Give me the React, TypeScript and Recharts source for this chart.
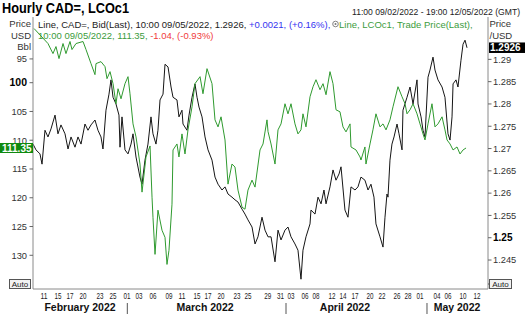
import React from "react";
import { LineChart, Line, XAxis, YAxis } from "recharts";

const FONT = "'Liberation Sans', Arial, sans-serif";
const FRAME = "#8a8a8a";

// x = trading-day position counted from 9 Feb 2022, y = Brent price (USD/Bbl)
const brentDays = [
  0.61, 2.65, 3.38, 3.82, 4.26, 4.85, 5.28, 5.87, 6.16, 6.75, 7.77, 8.21, 8.94, 9.52, 9.67, 10.4, 10.99,
  11.28, 11.72, 12.16, 12.59, 12.89, 13.33, 13.91, 14.35, 14.64, 15.08, 15.52, 16.1, 16.4, 16.98, 17.57,
  17.86, 18.0, 18.3, 18.73, 19.32, 19.76, 20.05, 20.34, 20.78, 20.93, 21.51, 21.8, 22.24, 22.68, 23.12,
  23.71, 24.14, 24.88, 25.31, 25.9, 26.63, 27.07, 27.51, 27.95, 28.53, 28.97, 29.55, 29.99, 30.43, 31.02,
  31.45, 31.89, 32.48, 32.92, 33.65, 34.09, 34.67, 34.82, 35.26, 35.84, 36.28, 36.72, 37.3, 37.74, 38.18,
  38.76, 39.2, 39.64, 39.93, 40.37, 40.96, 41.4, 41.83, 42.42, 42.86, 43.3, 43.88, 44.32, 44.76, 45.34,
  45.78, 46.22, 46.81, 46.95, 47.68, 48.27, 48.41, 48.99, 49.14, 49.73, 50.16, 50.6, 51.19, 51.63, 52.07,
  52.65, 53.09, 53.82, 54.41, 54.85, 55.14, 55.58, 56.02, 56.6, 57.04, 57.48, 57.77, 58.21, 58.79, 59.23,
  59.67, 60.26, 60.69, 60.99, 61.43, 61.87, 62.45, 62.89, 63.33, 63.77,
];
const brentValues = [
  90.58, 93.19, 94.94, 93.72, 95.81, 93.19, 94.94, 92.84, 94.24, 93.19, 92.84, 94.24, 96.68, 98.6, 96.68,
  96.34, 97.21, 99.3, 98.08, 100.17, 103.66, 101.05, 102.79, 100.17, 98.95, 101.92, 107.16, 109.42, 114.14,
  119.02, 112.91, 111.0, 119.9, 123.39, 129.84, 122.16, 125.65, 126.88, 131.59, 129.14, 121.12, 111.69,
  110.65, 112.91, 108.9, 112.39, 108.2, 104.19, 100.17, 98.95, 101.92, 97.56, 100.17, 106.46, 107.68,
  105.93, 109.95, 117.63, 114.14, 114.66, 118.67, 121.64, 121.99, 118.67, 116.93, 118.15, 111.69, 110.65,
  106.46, 108.5, 110.65, 114.14, 108.2, 107.16, 103.66, 105.41, 103.66, 107.16, 108.9, 108.2, 105.41,
  107.68, 102.44, 100.7, 99.48, 101.22, 100.17, 102.09, 98.08, 100.17, 104.71, 105.06, 107.68, 108.55,
  107.16, 111.17, 111.69, 112.91, 113.44, 111.17, 114.14, 110.65, 108.2, 105.41, 107.68, 107.16, 108.2,
  106.46, 104.19, 100.7, 102.44, 103.66, 105.41, 104.71, 103.66, 105.41, 107.16, 108.9, 109.95, 107.16,
  103.66, 107.68, 107.16, 105.93, 108.2, 109.95, 110.65, 111.69, 111.17, 112.39, 111.69, 111.35,
];

// x = trading-day position, y = USD/CAD bid
const cadDays = [
  0.46, 0.9, 1.48, 1.78, 2.21, 2.65, 3.09, 3.68, 4.11, 4.55, 5.14, 5.58, 6.02, 6.6, 7.04, 7.48, 8.06, 8.5,
  8.94, 9.52, 9.96, 10.4, 10.69, 11.13, 11.57, 11.86, 12.16, 12.59, 13.03, 13.18, 13.47, 13.91, 14.35,
  14.79, 15.08, 15.52, 16.1, 16.4, 16.83, 17.27, 17.71, 18.0, 18.44, 18.73, 19.03, 19.47, 19.76, 20.2,
  20.64, 20.93, 21.51, 21.8, 22.24, 22.39, 22.97, 23.27, 23.71, 24.14, 24.44, 24.73, 25.17, 25.61, 26.05,
  26.63, 27.07, 27.51, 28.09, 28.53, 28.97, 29.55, 29.99, 30.43, 31.02, 31.45, 31.89, 32.48, 32.92, 33.35,
  33.94, 34.38, 34.82, 35.26, 35.84, 36.28, 36.72, 37.3, 37.74, 38.18, 38.76, 39.2, 39.64, 39.93, 40.37,
  40.96, 41.1, 41.69, 42.13, 42.57, 43.0, 43.3, 43.88, 44.32, 44.76, 45.2, 45.49, 46.07, 46.51, 46.95,
  47.54, 47.97, 48.41, 48.99, 49.44, 49.87, 50.31, 50.6, 51.19, 51.63, 51.92, 52.21, 52.36, 52.65, 52.94,
  53.24, 53.68, 53.97, 54.41, 54.55, 55.14, 55.58, 56.02, 56.6, 56.75, 57.19, 57.48, 57.77, 58.21, 58.5,
  58.94, 59.23, 59.67, 60.26, 60.69, 61.13, 61.43, 61.72, 61.87, 62.3, 62.59, 63.03, 63.33, 63.62, 63.91,
];
const cadValues = [
  1.271, 1.2697, 1.2688, 1.2665, 1.2741, 1.2726, 1.2744, 1.2775, 1.2733, 1.2753, 1.2733, 1.2699, 1.2726,
  1.2703, 1.2726, 1.271, 1.2755, 1.2741, 1.2753, 1.2764, 1.2741, 1.2726, 1.2699, 1.2786, 1.2822, 1.2854,
  1.2815, 1.28, 1.2775, 1.2703, 1.2771, 1.2697, 1.2688, 1.271, 1.2733, 1.2681, 1.2636, 1.262, 1.2674,
  1.271, 1.2771, 1.2733, 1.271, 1.2741, 1.2809, 1.2822, 1.2889, 1.2883, 1.2838, 1.2815, 1.2809, 1.2771,
  1.2786, 1.2755, 1.2741, 1.2775, 1.2815, 1.2845, 1.2815, 1.2793, 1.2771, 1.2726, 1.2697, 1.2674, 1.2636,
  1.262, 1.2607, 1.2614, 1.2598, 1.2591, 1.2585, 1.258, 1.2564, 1.2553, 1.254, 1.2524, 1.2486, 1.2502,
  1.2546, 1.2517, 1.2502, 1.2502, 1.2446, 1.2517, 1.2495, 1.2517, 1.2524, 1.2502, 1.2486, 1.2472, 1.2407,
  1.2472, 1.2502, 1.2531, 1.2562, 1.2553, 1.2591, 1.2576, 1.2607, 1.2576, 1.2614, 1.2652, 1.2629, 1.2643,
  1.2659, 1.2562, 1.2546, 1.2614, 1.2607, 1.2614, 1.2636, 1.2629, 1.2607, 1.262, 1.2591, 1.2531, 1.2502,
  1.2479, 1.2546, 1.2598, 1.2591, 1.2674, 1.271, 1.2726, 1.2755, 1.2733, 1.2697, 1.2786, 1.2815, 1.2838,
  1.28, 1.2854, 1.28, 1.2771, 1.2741, 1.2726, 1.286, 1.2876, 1.2905, 1.2876, 1.2854, 1.2838, 1.2815,
  1.2733, 1.2719, 1.2771, 1.2845, 1.2854, 1.2838, 1.2898, 1.2934, 1.2943, 1.2926,
];

const brentLast = 111.35;
const cadLast = 1.2926;

const brentTicks = [95, 100, 105, 110, 115, 120, 125, 130];
const cadTicks = [1.245, 1.25, 1.255, 1.26, 1.265, 1.27, 1.275, 1.28, 1.285, 1.29];

const dayTickPos = [
  2.07, 4.11, 5.87, 7.77, 10.26, 12.16, 14.2, 15.96, 18.0, 20.34, 22.24, 24.44, 26.05, 27.95, 30.29, 31.89,
  34.77, 36.64, 38.18, 40.23, 41.83, 44.17, 45.78, 47.54, 49.73, 51.48, 53.68, 55.29, 57.04, 59.53, 61.14,
  63.33, 65.38,
];
const dayTickLabels = [
  "11", "15", "17", "20", "23", "25", "01", "03", "06", "09", "11", "15", "17", "20", "23", "25", "29", "31",
  "03", "06", "08", "12", "14", "17", "20", "22", "26", "28", "01", "04", "06", "10", "12",
];
const monthCenters = [7.33, 25.61, 46.07, 62.45];
const monthLabels = ["February 2022", "March 2022", "April 2022", "May 2022"];
const monthBounds = [14.25, 37.45, 58.06];

const X_DOMAIN: [number, number] = [0.46, 66.98];

const brentData = brentDays.map((t, i) => ({ t, brent: brentValues[i] }));
const cadData = cadDays.map((t, i) => ({ t, cad: cadValues[i] }));

// one bottom axis draws the day numbers, the month names and the month separators
function DateTick({ x, y, payload }: any) {
  const v = payload.value;
  if (monthBounds.includes(v)) {
    return <line x1={x} x2={x} y1={y + 14} y2={y + 25} stroke="#555" />;
  }
  const m = monthCenters.indexOf(v);
  if (m >= 0) {
    return (
      <text x={x} y={y + 22} textAnchor="middle" fontSize={10.5} fontWeight="bold" fontFamily={FONT} fill="#111">
        {monthLabels[m]}
      </text>
    );
  }
  const i = dayTickPos.indexOf(v);
  return (
    <text x={x} y={y + 10.3} textAnchor="middle" fontSize={9} fontFamily={FONT} fill="#222"
      textLength={7} lengthAdjust="spacingAndGlyphs">
      {dayTickLabels[i]}
    </text>
  );
}

function BrentTick({ x, y, payload }: any) {
  const v = payload.value;
  if (v === brentLast) {
    return (
      <g>
        <rect x={x - 33} y={y - 5} width={33} height={10} fill="#0f8a0f" />
        <text x={x - 1.5} y={y + 3.6} textAnchor="end" fontSize={10} fontWeight="bold" fontFamily={FONT} fill="#fff">
          {String(v)}
        </text>
      </g>
    );
  }
  // the top label sits a little lower so it clears the unit title
  const dy = v === brentTicks[0] ? 5 : 0;
  return (
    <g>
      <line x1={x - 3.5} x2={x} y1={y + dy} y2={y + dy} stroke="#666" />
      <text x={x - 6} y={y + dy + 3.3} textAnchor="end" fontSize={v === 100 ? 10.5 : 9.3}
        fontWeight={v === 100 ? "bold" : "normal"} fontFamily={FONT} fill={v === 100 ? "#000" : "#333"}>
        {String(v)}
      </text>
    </g>
  );
}

function CadTick({ x, y, payload }: any) {
  const v = payload.value;
  if (v === cadLast) {
    return (
      <g>
        <rect x={x + 1} y={y - 5.3} width={36} height={10.5} fill="#000" />
        <text x={x + 2} y={y + 3.6} fontSize={10} fontWeight="bold" fontFamily={FONT} fill="#fff">
          {String(v)}
        </text>
      </g>
    );
  }
  return (
    <g>
      <line x1={x} x2={x + 3.5} y1={y} y2={y} stroke="#666" />
      <text x={x + 5} y={y + 3.3} fontSize={v === 1.25 ? 10 : 9.3}
        fontWeight={v === 1.25 ? "bold" : "normal"} fontFamily={FONT} fill={v === 1.25 ? "#000" : "#333"}>
        {String(v)}
      </text>
    </g>
  );
}

function Overlay() {
  const t = { fontFamily: FONT };
  return (
    <svg width={525} height={315} style={{ position: "absolute", left: 0, top: 0, pointerEvents: "none" }}>
      <text {...t} x={2} y={13} fontSize={14} fontWeight="bold" fill="#000" textLength={127} lengthAdjust="spacingAndGlyphs">
        Hourly CAD=, LCOc1
      </text>
      <text {...t} x={520} y={14.5} fontSize={8.6} textAnchor="end" fill="#222">
        11:00 09/02/2022 - 19:00 12/05/2022 (GMT)
      </text>

      <text {...t} x={31} y={27} fontSize={9.5} textAnchor="end" fill="#333">Price</text>
      <text {...t} x={31} y={38.5} fontSize={9.5} textAnchor="end" fill="#333">USD</text>
      <text {...t} x={31} y={50} fontSize={9.5} textAnchor="end" fill="#333">Bbl</text>
      <text {...t} x={489.5} y={27} fontSize={9.5} fill="#333">Price</text>
      <text {...t} x={489.5} y={38.5} fontSize={9.5} fill="#333">/USD</text>

      <text {...t} x={38} y={28} fontSize={9.5}>
        <tspan fill="#222">Line, CAD=, Bid(Last), 10:00 09/05/2022, 1.2926, </tspan>
        <tspan fill="#3434f0">+0.0021, (+0.16%),</tspan>
      </text>
      <circle cx={335.5} cy={24} r={2.8} fill="#fff" stroke="#777" strokeWidth={0.9} />
      <circle cx={335.5} cy={24} r={1} fill="#777" />
      <text {...t} x={339} y={28} fontSize={9.5} fill="#3c9c3c">Line, LCOc1, Trade Price(Last),</text>
      <text {...t} x={38} y={39} fontSize={9.5}>
        <tspan fill="#3c9c3c">10:00 09/05/2022, 111.35, </tspan>
        <tspan fill="#f03c3c">-1.04, (-0.93%)</tspan>
      </text>

      <rect x={9.5} y={279.5} width={21} height={9} fill="#f2f2f2" stroke="#555" strokeWidth={1} />
      <text {...t} x={20} y={287} fontSize={8} textAnchor="middle" fill="#222">Auto</text>
      <line x1={488} x2={489.5} y1={284} y2={284} stroke="#555" />
      <rect x={489.5} y={279.5} width={22} height={9} fill="#f2f2f2" stroke="#555" strokeWidth={1} />
      <text {...t} x={500.5} y={287} fontSize={8} textAnchor="middle" fill="#222">Auto</text>
    </svg>
  );
}

export default function App() {
  return (
    <div style={{ position: "absolute", left: 0, top: 0, width: 525, height: 315, background: "#fff" }}>
      <LineChart width={525} height={315} margin={{ top: 17, right: 0, bottom: 0, left: 0 }}>
        <XAxis xAxisId="top" orientation="top" type="number" dataKey="t" domain={X_DOMAIN} allowDataOverflow
          height={0} tick={false} tickLine={false} axisLine={{ stroke: FRAME }} />
        <XAxis xAxisId="day" type="number" dataKey="t" domain={X_DOMAIN} allowDataOverflow
          ticks={[...dayTickPos, ...monthCenters, ...monthBounds]} interval={0} height={26} tickSize={0}
          tickMargin={0} tickLine={false} axisLine={{ stroke: FRAME }} tick={<DateTick />} />
        <YAxis yAxisId="brent" orientation="left" type="number" reversed domain={[88.58, 135.86]}
          allowDataOverflow ticks={[...brentTicks, brentLast]} interval={0} width={33} tickSize={0}
          tickMargin={0} tickLine={false} axisLine={{ stroke: FRAME }} tick={<BrentTick />} />
        <YAxis yAxisId="cad" orientation="right" type="number" domain={[1.2385, 1.2995]}
          allowDataOverflow ticks={[...cadTicks, cadLast]} interval={0} width={37} tickSize={0}
          tickMargin={0} tickLine={false} axisLine={{ stroke: FRAME }} tick={<CadTick />} />
        <Line data={cadData} dataKey="cad" xAxisId="day" yAxisId="cad" stroke="#151515" strokeWidth={1}
          dot={false} isAnimationActive={false} />
        <Line data={brentData} dataKey="brent" xAxisId="top" yAxisId="brent" stroke="#2f9a2f" strokeWidth={1}
          dot={false} isAnimationActive={false} />
      </LineChart>
      <Overlay />
    </div>
  );
}
